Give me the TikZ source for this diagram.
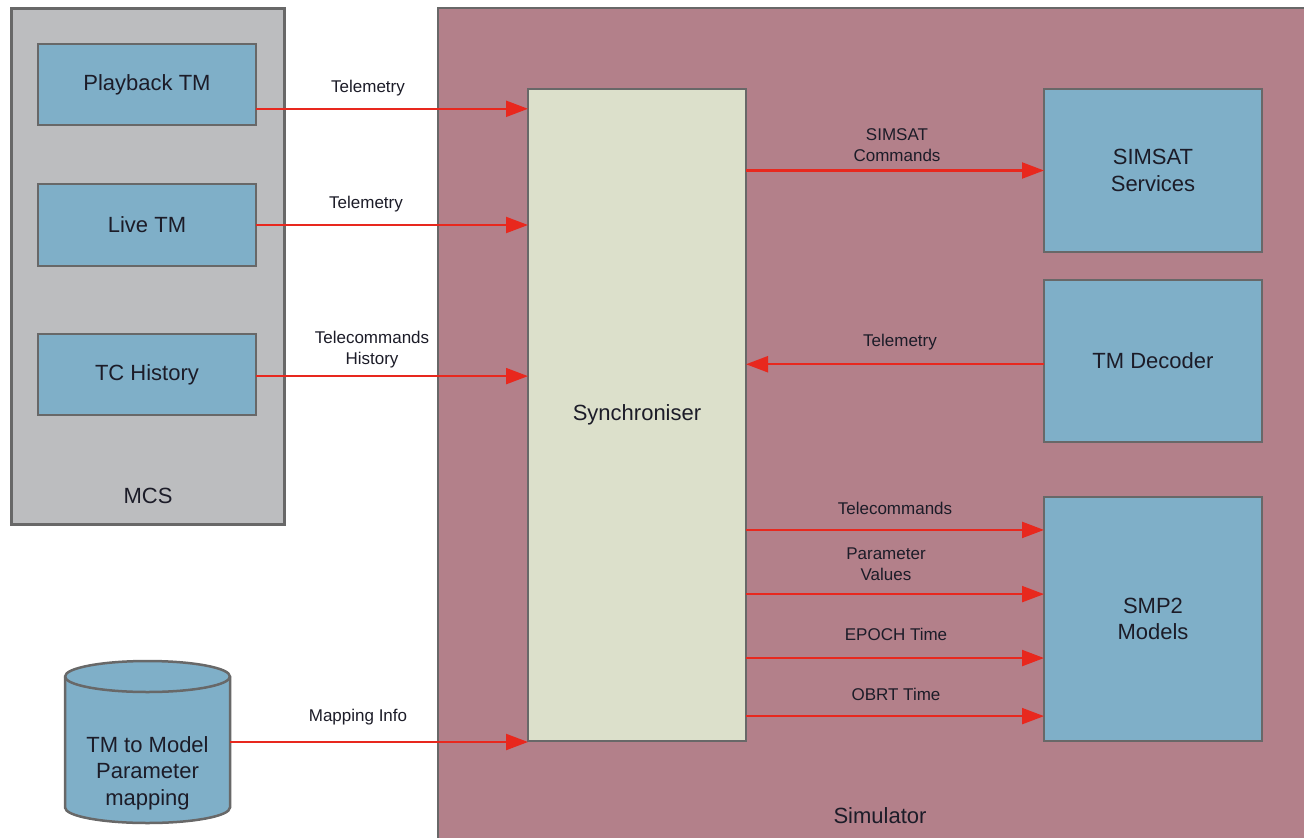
\documentclass[tikz,border=0pt]{standalone}
\usepackage{fontspec}
\setmainfont{Liberation Sans}
\usetikzlibrary{arrows.meta,calc}
\definecolor{simfill}{HTML}{B3808A}
\definecolor{mcsfill}{HTML}{BCBDBF}
\definecolor{bluefill}{HTML}{7FAFC8}
\definecolor{syncfill}{HTML}{DCE0CB}
\definecolor{edgecol}{HTML}{686868}
\definecolor{arrred}{HTML}{E8281E}
\definecolor{txt}{HTML}{1C1C28}
\tikzset{
  mainfont/.style={font=\fontsize{22}{26.5}\selectfont, text=txt},
  lblfont/.style={font=\fontsize{17}{21}\selectfont, text=txt, align=center},
  bluebox/.style={draw=edgecol, line width=2.5pt, fill=bluefill, outer sep=0pt, inner sep=0pt,
    minimum width=218pt, align=center, mainfont},
  arr/.style={draw=arrred, line width=2.2pt, -{Triangle[length=22pt,width=16pt]}},
}
\begin{document}
\begin{tikzpicture}[x=1pt,y=-1pt]
\clip (0,0) rectangle (1304,838);
\useasboundingbox (0,0) rectangle (1304,838);
\fill[white] (0,0) rectangle (1304,838);
% containers
\node[draw=edgecol, line width=2.5pt, fill=simfill, outer sep=0pt, inner sep=0pt,
  minimum width=900pt, minimum height=860pt, anchor=north west] (sim) at (438,8) {};
\node[mainfont] (simlbl) at (880,816) {Simulator};
\node[draw=edgecol, line width=3pt, fill=mcsfill, outer sep=0pt, inner sep=0pt,
  minimum width=273pt, minimum height=516pt] (mcs) at (147.5,266) {};
\node[mainfont] (mcslbl) at (148,496) {MCS};
% MCS boxes
\node[bluebox, minimum height=81pt] (play) at (147,84.5) {Playback TM};
\node[bluebox, minimum height=82pt] (live) at (147,225) {Live TM};
\node[bluebox, minimum height=81pt] (tch) at (147,374.5) {TC History};
% simulator boxes
\node[draw=edgecol, line width=2.5pt, fill=syncfill, outer sep=0pt, inner sep=0pt,
  minimum width=218pt, minimum height=652pt, mainfont] (sync) at (637,415) {Synchroniser};
\node[bluebox, minimum height=163pt] (simsat) at (1153,170.5) {SIMSAT\\Services};
\node[bluebox, minimum height=162pt] (tmd) at (1153,361) {TM Decoder};
\node[bluebox, minimum height=244pt] (smp) at (1153,619) {SMP2\\Models};
% database cylinder
\node[minimum width=165pt, minimum height=162pt, inner sep=0pt, outer sep=0pt] (db) at (147.5,742) {};
\filldraw[fill=bluefill, draw=edgecol, line width=2.5pt]
  (65,676.5) -- (65,807.5) arc[start angle=180, end angle=360, x radius=82.5pt, y radius=15.5pt]
  -- (230,676.5) arc[start angle=0, end angle=180, x radius=82.5pt, y radius=15.5pt] -- cycle;
\draw[draw=edgecol, line width=2.5pt]
  (65,676.5) arc[start angle=180, end angle=360, x radius=82.5pt, y radius=15.5pt];
\node[mainfont, align=center] (dbtxt) at (147.5,773) {TM to Model\\Parameter\\mapping};
% connectors
\draw[arr] ($(play.south east)!0.2!(play.north east)$) coordinate (a1) -- (a1 -| sync.west);
\draw[arr] (live.east) -- (live.east -| sync.west);
\draw[arr] ($(tch.south east)!0.48!(tch.north east)$) coordinate (a3) -- (a3 -| sync.west);
\draw[arr] (db.east) -- (db.east -| sync.west);
\draw[arr] (sync.east |- simsat.west) -- (simsat.west);
\draw[arr] ($(tmd.north west)!0.52!(tmd.south west)$) coordinate (b2) -- (b2 -| sync.east);
\draw[arr] (sync.east |- {$(smp.north west)!0.135!(smp.south west)$}) -- ($(smp.north west)!0.135!(smp.south west)$);
\draw[arr] (sync.east |- {$(smp.north west)!0.398!(smp.south west)$}) -- ($(smp.north west)!0.398!(smp.south west)$);
\draw[arr] (sync.east |- {$(smp.north west)!0.66!(smp.south west)$}) -- ($(smp.north west)!0.66!(smp.south west)$);
\draw[arr] (sync.east |- {$(smp.north west)!0.898!(smp.south west)$}) -- ($(smp.north west)!0.898!(smp.south west)$);
% labels
\node[lblfont] (l1) at (368,88) {Telemetry};
\node[lblfont] (l2) at (366,204) {Telemetry};
\node[lblfont] (l3) at (372,350) {Telecommands\\History};
\node[lblfont] (l4) at (358,717) {Mapping Info};
\node[lblfont] (l5) at (897,145) {SIMSAT\\Commands};
\node[lblfont] (l6) at (900,342) {Telemetry};
\node[lblfont] (l7) at (895,508) {Telecommands};
\node[lblfont] (l8) at (886,564) {Parameter\\Values};
\node[lblfont] (l9) at (896,634) {EPOCH Time};
\node[lblfont] (l10) at (896,694) {OBRT Time};
\end{tikzpicture}
\end{document}
